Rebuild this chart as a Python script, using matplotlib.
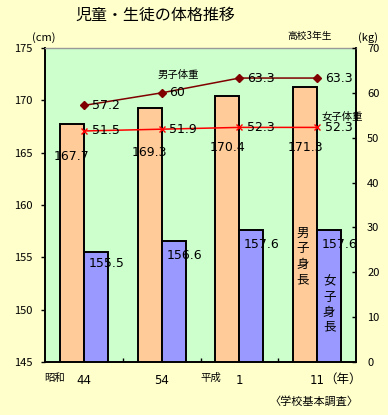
import matplotlib
matplotlib.use("Agg")
import matplotlib.pyplot as plt
import numpy as np

plt.rcParams['font.family'] = ['Noto Sans CJK JP', 'DejaVu Sans']

years = ['44', '54', '1', '11']
male_height = [167.7, 169.3, 170.4, 171.3]
female_height = [155.5, 156.6, 157.6, 157.6]
male_weight = [57.2, 60.0, 63.3, 63.3]
female_weight = [51.5, 51.9, 52.3, 52.3]
left_ticks = [145, 150, 155, 160, 165, 170, 175]
right_ticks = [0, 10, 20, 30, 40, 50, 60, 70]

W, H = 388, 415
fig = plt.figure(figsize=(W/100, H/100), dpi=100)
fig.patch.set_facecolor('#FFFFCC')

ax = fig.add_axes([45/W, 53/H, 311/W, 314/H])
ax.set_facecolor('#CCFFCC')
ax.set_zorder(1)
x = np.arange(len(years))
bw = 0.31
ax.bar(x - bw/2, [h - 145 for h in male_height], bw, bottom=145, color='#FFCC99',
       edgecolor='black', linewidth=1.4, zorder=3)
ax.bar(x + bw/2, [h - 145 for h in female_height], bw, bottom=145, color='#9999FF',
       edgecolor='black', linewidth=1.4, zorder=3)
ax.set_xlim(-0.5, 3.5)
ax.set_ylim(145, 175)
ax.set_yticks(left_ticks)
ax.tick_params(axis='y', direction='out', length=3, labelsize=8, pad=6, width=1)
ax.set_xticks([0.5, 1.5, 2.5])
ax.set_xticklabels([])
ax.tick_params(axis='x', direction='in', length=3, width=1)
for s in ['left', 'bottom', 'right']:
    ax.spines[s].set_linewidth(1.4)
ax.spines['top'].set_color('#999999')
ax.spines['top'].set_linewidth(1)

# data labels (label placement as in the original chart)
m_label_y = [164.6, 165.0, 165.5, 165.5]
f_label_y = [154.45, 155.15, 156.2, 156.2]
for i, v in enumerate(male_height):
    ax.text(x[i] - bw/2, m_label_y[i], f'{v}', ha='center', va='center', fontsize=9,
            family=['DejaVu Sans'], zorder=5)
for i, v in enumerate(female_height):
    ax.text(x[i] + bw - 0.02, f_label_y[i], f'{v}', ha='center', va='center', fontsize=9,
            family=['DejaVu Sans'], zorder=5)

ax2 = ax.twinx()
ax2.set_zorder(2)
ax2.set_ylim(0, 70)
ax2.set_yticks(right_ticks)
ax2.tick_params(axis='y', direction='in', length=3, labelsize=8, pad=8, width=1)
ax2.plot(x, male_weight, color='#800000', marker='D', markersize=4.5, linewidth=1.1)
ax2.plot(x, female_weight, color='#FF0000', marker='x', markersize=4, linewidth=1.1)
for i, v in enumerate(male_weight):
    ax2.text(x[i] + 0.1, v, f'{v:g}', ha='left', va='center', fontsize=9,
             family=['DejaVu Sans'])
for i, v in enumerate(female_weight):
    ax2.text(x[i] + 0.1, v, f'{v:g}', ha='left', va='center', fontsize=9,
             family=['DejaVu Sans'])
ax2.text(0.95, 64.0, '男子体重', ha='left', va='center', fontsize=7.5)
ax2.text(3.06, 54.7, '女子体重', ha='left', va='center', fontsize=7.5)
ax2.text(3 - bw/2 - 0.03, 23.5, '男\n子\n身\n長', ha='center', va='center', fontsize=9,
         linespacing=1.25, zorder=6)
ax2.text(3 + bw/2, 12.8, '女\n子\n身\n長', ha='center', va='center', fontsize=9,
         linespacing=1.2, zorder=6)
for s in ax2.spines.values():
    s.set_visible(False)

# axis texts
fig.text(155/W, 1 - 15/H, '児童・生徒の体格推移', ha='center', va='center', fontsize=11.5)
fig.text(310/W, 1 - 36/H, '高校3年生', ha='center', va='center', fontsize=7)
fig.text(44/W, 1 - 38/H, '(cm)', ha='center', va='center', fontsize=8)
fig.text(368/W, 1 - 38/H, '(kg)', ha='center', va='center', fontsize=8)
fig.text(55/W, 1 - 378/H, '昭和', ha='center', va='center', fontsize=7.5)
fig.text(211/W, 1 - 378/H, '平成', ha='center', va='center', fontsize=7.5)
fig.text(343/W, 1 - 379/H, '（年）', ha='center', va='center', fontsize=9)
fig.text(314/W, 1 - 402/H, '〈学校基本調査〉', ha='center', va='center', fontsize=8)
for i, lab in enumerate(years):
    ax.text(x[i], -0.058, lab, transform=ax.get_xaxis_transform(), ha='center', va='center',
            fontsize=8.5, family=['DejaVu Sans'])

fig.savefig('out.png', dpi=100, facecolor=fig.get_facecolor())
